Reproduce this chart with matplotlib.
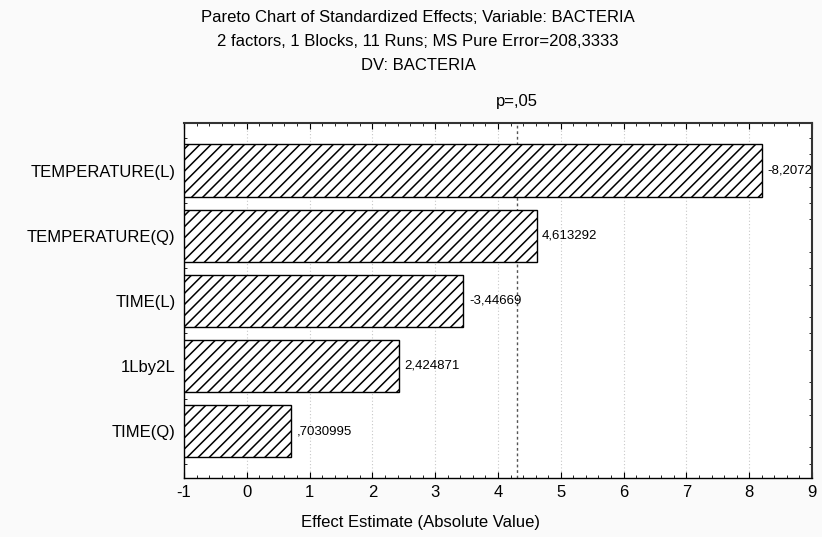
import matplotlib
matplotlib.use("Agg")
import matplotlib.pyplot as plt
from matplotlib.ticker import MultipleLocator

plt.rcParams['font.family'] = ['Liberation Sans', 'DejaVu Sans']
plt.rcParams['hatch.linewidth'] = 1.1

# effects (absolute value) and their signed labels
factors = ['TEMPERATURE(L)', 'TEMPERATURE(Q)', 'TIME(L)', '1Lby2L', 'TIME(Q)']
effects = [8.2072, 4.613292, 3.44669, 2.424871, 0.7030995]
value_labels = ['-8,2072', '4,613292', '-3,44669', '2,424871', ',7030995']
p_crit = 4.303  # t critical, p=,05
x_ticks = [-1, 0, 1, 2, 3, 4, 5, 6, 7, 8, 9]
x_min, x_max = -1, 9

fig = plt.figure(figsize=(8.22, 5.37), dpi=100, facecolor='#fafafa')
ax = fig.add_axes([184 / 822, 1 - 478 / 537, 628 / 822, 355 / 537])
ax.set_facecolor('white')

ypos = list(range(len(factors)))
# bars are drawn from the left edge of the axis, like STATISTICA does
ax.barh(ypos, [e - x_min for e in effects], height=0.8, left=x_min, color='white',
        edgecolor='black', hatch='///', linewidth=1.0, zorder=3)

for y, v, lab in zip(ypos, effects, value_labels):
    ax.text(v + 0.09, y, lab, va='center', ha='left', fontsize=9.5, zorder=4, clip_on=True)

ax.axvline(p_crit, color='#555555', linestyle=(0, (2, 2)), linewidth=1.0, zorder=2)
ax.text(p_crit, -0.95, 'p=,05', ha='center', va='bottom', fontsize=12)

ax.set_xlim(x_min, x_max)
ax.set_ylim(4.72, -0.73)
ax.set_xticks(x_ticks)
ax.set_xticklabels([str(t) for t in x_ticks], fontsize=12)
ax.xaxis.set_minor_locator(MultipleLocator(0.2))
ax.set_yticks(ypos)
ax.set_yticklabels(factors, fontsize=12)
ax.yaxis.set_minor_locator(MultipleLocator(0.25))
ax.tick_params(axis='both', which='both', direction='in', top=True, right=True)
ax.tick_params(axis='both', which='major', length=4, pad=5)
ax.tick_params(axis='both', which='minor', length=2.5)
ax.tick_params(axis='y', which='major', length=0, pad=6)

ax.grid(axis='x', color='#c8c8c8', linestyle=(0, (1, 2)), linewidth=0.8, zorder=0)

for s in ['left', 'bottom']:
    ax.spines[s].set_color('black')
    ax.spines[s].set_linewidth(1.0)
for s in ['right', 'top']:
    ax.spines[s].set_color('#333333')
    ax.spines[s].set_linewidth(1.5)

fig.text(420 / 822, 1 - 523 / 537, 'Effect Estimate (Absolute Value)',
         ha='center', va='center', fontsize=12)

fig.text(418 / 822, 1 - 17 / 537, 'Pareto Chart of Standardized Effects; Variable: BACTERIA',
         ha='center', va='center', fontsize=12)
fig.text(418 / 822, 1 - 41 / 537, '2 factors, 1 Blocks, 11 Runs; MS Pure Error=208,3333',
         ha='center', va='center', fontsize=12)
fig.text(418 / 822, 1 - 66 / 537, 'DV: BACTERIA', ha='center', va='center', fontsize=12)

fig.savefig('out.png', dpi=100, facecolor=fig.get_facecolor())
